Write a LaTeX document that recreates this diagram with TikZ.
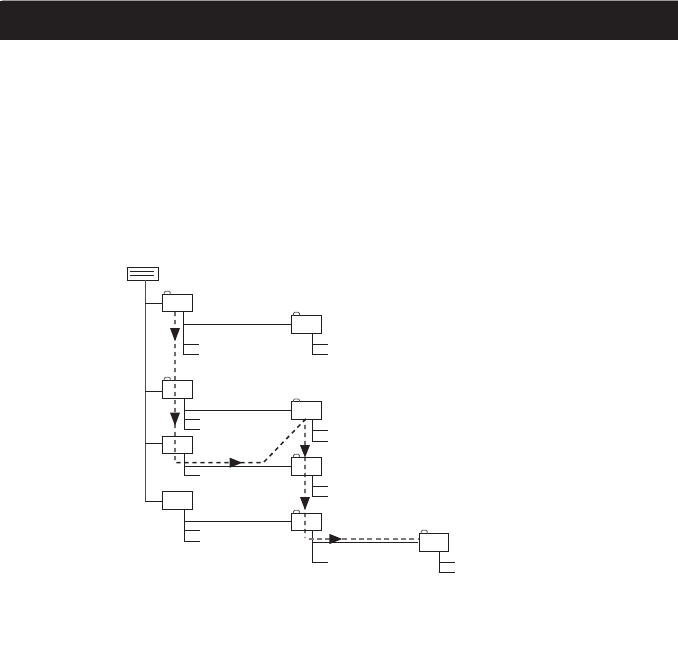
\documentclass[tikz,border=0pt]{standalone}
\definecolor{ink}{HTML}{231F20}
\tikzset{
  x=1pt,y=-1pt,
  folder/.style={draw=ink,line width=1pt,rectangle,inner sep=0pt,outer sep=0pt,minimum width=30pt},
  rootbox/.style={draw=ink,line width=1pt,rectangle,inner sep=0pt,outer sep=0pt,minimum width=31pt,minimum height=13pt},
  conn/.style={draw=ink,line width=0.9pt},
  spine/.style={draw=ink!80,line width=0.9pt},
  tabline/.style={draw=ink!75,line width=0.8pt,rounded corners=1.2pt},
  route/.style={draw=ink,line width=1.45pt,dash pattern=on 4.2pt off 3.8pt},
  routegray/.style={draw=ink!60,line width=2pt,dash pattern=on 5pt off 3.4pt},
  tip/.style={fill=ink},
  band/.style={fill=ink}
}
\newcommand{\foldertab}[1]{\draw[tabline] ([xshift=2pt]#1.north west) -- ++(0,-3) -- ++(6,0) -- ++(0,3);}
\begin{document}
\begin{tikzpicture}
\useasboundingbox (0,0) rectangle (678,665);
% header band
\fill[band] (0,1) rectangle (678,40);
\fill[ink!45] (2,0) rectangle (678,1);
% nodes
\node[rootbox] (root) at (142.8,273.8) {};
\draw[conn,line width=0.75pt] (130,271.7) -- (154,271.7) (130,275.7) -- (154,275.7);
\node[folder,minimum height=17.4pt] (f1) at (177.3,303) {};
\node[folder,minimum height=18.4pt] (f2) at (177.3,389.5) {};
\node[folder,minimum height=17pt] (f3) at (177.3,444.8) {};
\node[folder,minimum height=18pt] (f4) at (177.3,500.3) {};
\node[folder,minimum height=18pt] (g1) at (306.5,324.3) {};
\node[folder,minimum height=17.7pt] (g2) at (306.5,410.8) {};
\node[folder,minimum height=18pt] (g3) at (306.5,466.3) {};
\node[folder,minimum height=17pt] (g4) at (306.5,521.8) {};
\node[folder,minimum height=18.4pt,minimum width=29.4pt] (h1) at (434,542.5) {};
\foldertab{f1}\foldertab{f2}\foldertab{g1}\foldertab{g2}\foldertab{g3}\foldertab{g4}\foldertab{h1}
% spine
\coordinate (spT) at (145.3,280.3);
\coordinate (spB) at (145.3,501.5);
\draw[spine] (spT) -- (spB);
\coordinate (b1) at (f1.west |- 0,303.3);
\coordinate (b2) at (f2.west |- 0,391.3);
\coordinate (b3) at (f3.west |- 0,443.3);
\coordinate (b4) at (f4.west |- 0,501.5);
\draw[conn] (spT |- b1) -- (b1);
\draw[conn] (spT |- b2) -- (b2);
\draw[conn] (spT |- b3) -- (b3);
\draw[conn] (spB) -- (b4);
% left-column trunks
\coordinate (t1) at (183.5,311.7);
\coordinate (t2) at (184.3,398.7);
\coordinate (t3) at (184.3,453.3);
\coordinate (t4) at (184.3,509.3);
\coordinate (a1) at (g1.west |- 0,324.3);
\coordinate (a2) at (g2.west |- 0,410.3);
\coordinate (a3) at (g3.west |- 0,466.3);
\coordinate (a4) at (g4.west |- 0,521.3);
\draw[conn] (t1) -- (183.5,354.3) -- (199,354.3) (183.5,344.3) -- (199,344.3) (t1 |- a1) -- (a1);
\draw[conn] (t2) -- (184.3,429.3) -- (200,429.3) (184.3,419.3) -- (200,419.3) (t2 |- a2) -- (a2);
\draw[conn] (t3) -- (184.3,475.3) -- (200,475.3) (t3 |- a3) -- (a3);
\draw[conn] (t4) -- (184.3,541.3) -- (200,541.3) (184.3,530.3) -- (200,530.3) (t4 |- a4) -- (a4);
% right-column trunks
\coordinate (r1) at (312.4,333.3);
\coordinate (r2) at (312.4,419.7);
\coordinate (r3) at (312.7,475.3);
\coordinate (r4) at (312.7,530.3);
\coordinate (r5) at (439.3,551.7);
\draw[conn] (r1) -- (312.4,354.3) -- (328,354.3) (312.4,344.3) -- (328,344.3);
\draw[conn] (r2) -- (312.4,441) -- (328,441) (312.4,430.3) -- (328,430.3);
\draw[conn] (r3) -- (312.7,496.3) -- (328,496.3) (312.7,486.3) -- (328,486.3);
\draw[conn] (r4) -- (312.7,562.3) -- (328,562.3) (312.7,542.3) -- (417.7,542.3);
\draw[conn] (r5) -- (439.3,572.3) -- (455,572.3) (439.3,562.3) -- (455,562.3);
% route
\coordinate (d0) at (175,312);
\coordinate (d1) at (175,462.7);
\coordinate (d2) at (263.3,462.7);
\coordinate (d3) at (305,419.7);
\coordinate (d4) at (305,537.5);
\coordinate (d5) at (308.5,539);
\coordinate (d6) at (418,539);
\draw[route] (d0) -- (d1) -- (d2) -- (d3) -- (d4);
\draw[routegray] (d5) -- (d6);
% arrowheads
\fill[tip] (170,328) -- (180,328) -- (175,341.3) -- cycle;
\fill[tip] (170,412.6) -- (180,412.6) -- (175,425.8) -- cycle;
\fill[tip] (229.6,457.6) -- (242.2,462.7) -- (229.6,467.8) -- cycle;
\fill[tip] (300,445) -- (310,445) -- (305,457.5) -- cycle;
\fill[tip] (300,497) -- (310,497) -- (305,510) -- cycle;
\fill[tip] (329.4,533.9) -- (342.2,539) -- (329.4,544.1) -- cycle;
\end{tikzpicture}
\end{document}
